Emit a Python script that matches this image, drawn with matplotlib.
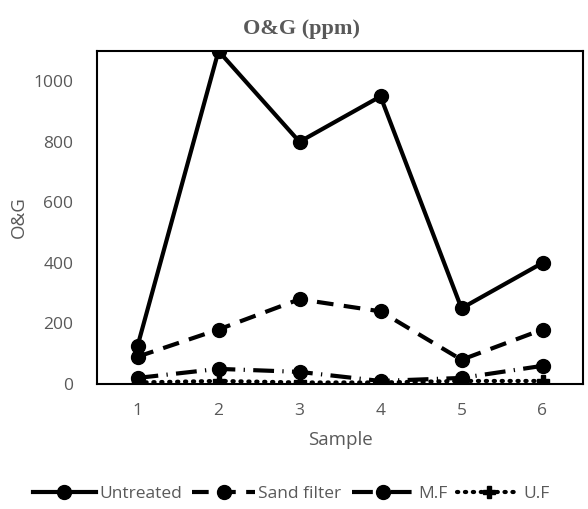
import matplotlib.pyplot as plt

samples = [1, 2, 3, 4, 5, 6]
untreated = [125, 1100, 800, 950, 250, 400]
sand_filter = [90, 180, 280, 240, 80, 180]
mf = [20, 50, 40, 10, 20, 60]
uf = [5, 10, 5, 5, 10, 10]

plt.rcParams['font.family'] = ['Open Sans', 'DejaVu Sans']
grey = '#595959'

fig = plt.figure(figsize=(5.88, 5.09), dpi=100)
ax = fig.add_axes([97 / 588, 1 - 384 / 509, 486 / 588, 333 / 509])

ax.plot(samples, untreated, color='black', lw=3, marker='o', ms=10, label='Untreated')
ax.plot(samples, sand_filter, color='black', lw=3, ls=(0, (4, 2.5)), marker='o', ms=10,
        label='Sand filter')
ax.plot(samples, mf, color='black', lw=3, ls=(0, (5, 2, 0.3, 2)), marker='o', ms=10,
        label='M.F')
ax.plot(samples, uf, color='black', lw=3, ls=(0, (0.3, 1.6)), dash_capstyle='round',
        marker='P', ms=9, label='U.F')

ax.set_xlim(0.5, 6.5)
ax.set_ylim(0, 1100)
ax.set_xticks(samples)
ax.set_yticks(range(0, 1001, 200))
ax.tick_params(length=0, labelsize=12.5, labelcolor=grey)
ax.tick_params(axis='y', pad=17)
ax.tick_params(axis='x', pad=14)
for s in ax.spines.values():
    s.set_linewidth(1.5)
    s.set_color('black')

ax.set_xlabel('Sample', fontsize=13.5, color=grey, labelpad=8)
ax.set_ylabel('O&G', fontsize=13.5, color=grey, labelpad=4)
ax.set_title('O&G (ppm)', fontsize=16, color=grey, fontweight='bold',
             family='Liberation Serif', pad=12, x=0.42)

ax.legend(loc='center', bbox_to_anchor=(0.4, -0.33), ncol=4, frameon=False,
          fontsize=12.5, labelcolor=grey, handlelength=3.6, handletextpad=0.2,
          columnspacing=0.6)

fig.savefig('out.png')
